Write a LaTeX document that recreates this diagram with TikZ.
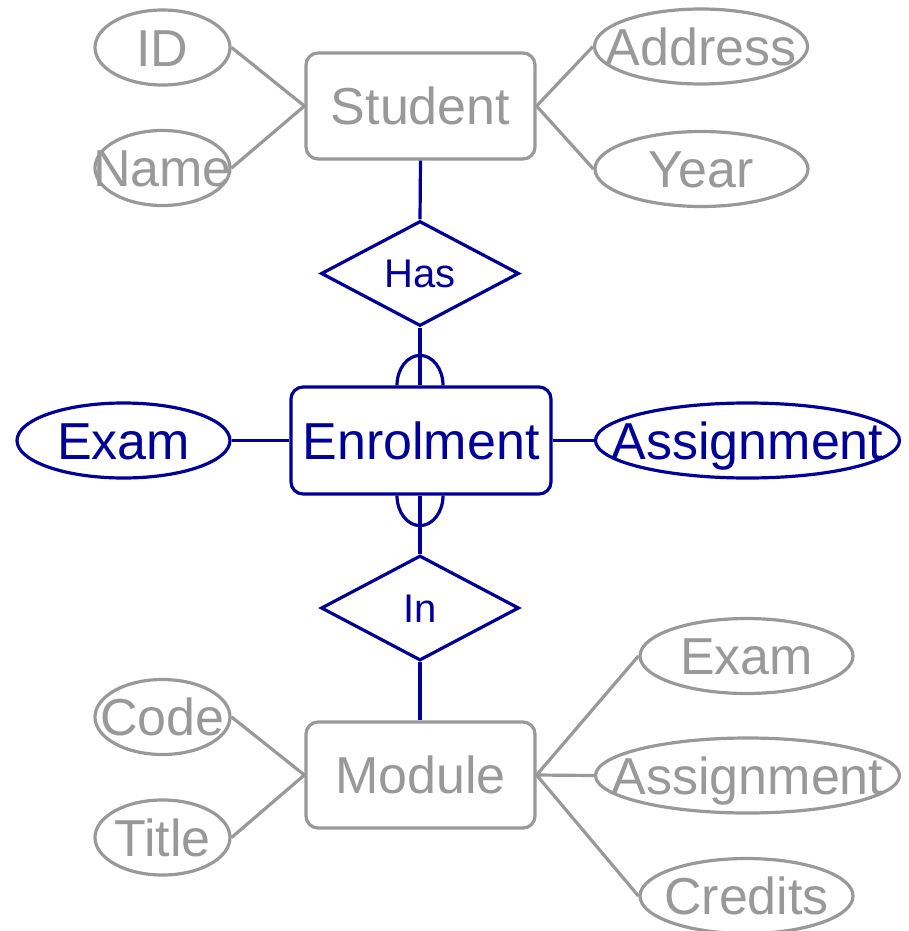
\documentclass[tikz,border=0pt]{standalone}
\usepackage{fontspec}
\setmainfont{Liberation Sans}
\usetikzlibrary{shapes.geometric}
\definecolor{erGray}{RGB}{153,153,153}
\definecolor{erBlue}{RGB}{0,0,153}
\newcommand{\zw}[1]{\makebox[0pt]{#1}}
\tikzset{
  bigtext/.style={font=\fontsize{39}{39}\selectfont, text height=27.9pt, text depth=0pt},
  ent/.style={draw, rounded corners=9pt, line width=2.4pt, inner sep=0pt,
    minimum width=171.75pt, minimum height=79.5pt, bigtext},
  attr/.style={draw, ellipse, line width=2.4pt, inner sep=0pt, bigtext},
  smallattr/.style={attr, minimum width=101.25pt, minimum height=56.25pt},
  wideattr/.style={attr, minimum width=159.75pt, minimum height=56.25pt},
  longattr/.style={attr, minimum width=228pt, minimum height=56.25pt},
  rel/.style={draw, diamond, aspect=1.886, line width=2.4pt, inner sep=0pt,
    minimum width=148.5pt, minimum height=78.75pt, font=\fontsize{30}{30}\selectfont,
    text height=21.5pt, text depth=0pt},
  grayc/.style={erGray, text=erGray},
  bluec/.style={erBlue, text=erBlue},
  gline/.style={erGray, line width=2.4pt},
  bline/.style={erBlue, line width=2.4pt},
}
\begin{document}
\begin{tikzpicture}[x=0.75pt, y=-0.75pt]
\useasboundingbox (0,0) rectangle (909,931);
% Student
\node[ent, grayc] (student) at (420.5,106) {Student};
\node[smallattr, grayc] (id) at (162.5,47.5) {\zw{ID}};
\node[smallattr, grayc] (name) at (162.5,168) {\zw{Name}};
\node[wideattr, grayc] (address) at (701,46.5) {\zw{Address}};
\node[wideattr, grayc] (year) at (701.5,169) {\zw{Year}};
\draw[gline] (id.east) -- (student.west) -- (name.east);
\draw[gline] (address.west) -- (student.east) -- (year.west);
% Has
\node[rel, bluec] (has) at (420,273.5) {Has};
% Enrolment
\node[ent, bluec, minimum width=195pt, minimum height=80.25pt] (enrol) at (421,440.5) {Enrolment};
\node[wideattr, bluec] (exam) at (123.5,440.5) {\zw{Exam}};
\node[longattr, bluec] (assign) at (747.5,440.5) {\zw{Assignment}};
\draw[bline] (student.south) -- (has.north);
\draw[bline] (has.south) -- (enrol.north -| has.south);
\draw[bline] (exam.east) -- (enrol.west);
\draw[bline] (enrol.east) -- (assign.west);
\draw[bline] ([xshift=-17.25pt]enrol.north -| has.south) arc[start angle=180, end angle=360, x radius=23, y radius=30];
% In
\node[rel, bluec] (in) at (420,608) {In};
\draw[bline] (enrol.south -| in.north) -- (in.north);
\draw[bline] ([xshift=-17.25pt]enrol.south -| in.north) arc[start angle=180, end angle=0, x radius=23, y radius=30];
% Module
\node[ent, grayc] (module) at (420.5,775) {Module};
\draw[bline] (in.south) -- (module.north -| in.south);
\node[smallattr, grayc] (code) at (162.5,717) {\zw{Code}};
\node[smallattr, grayc] (title) at (162.5,837.5) {\zw{Title}};
\node[wideattr, grayc] (mexam) at (746.5,656) {\zw{Exam}};
\node[longattr, grayc] (massign) at (747.5,775.5) {\zw{Assignment}};
\node[wideattr, grayc] (credits) at (746.5,896) {\zw{Credits}};
\draw[gline] (code.east) -- (module.west) -- (title.east);
\draw[gline] (mexam.west) -- (module.east) -- (credits.west);
\draw[gline] (module.east) -- (massign.west);
\end{tikzpicture}
\end{document}
